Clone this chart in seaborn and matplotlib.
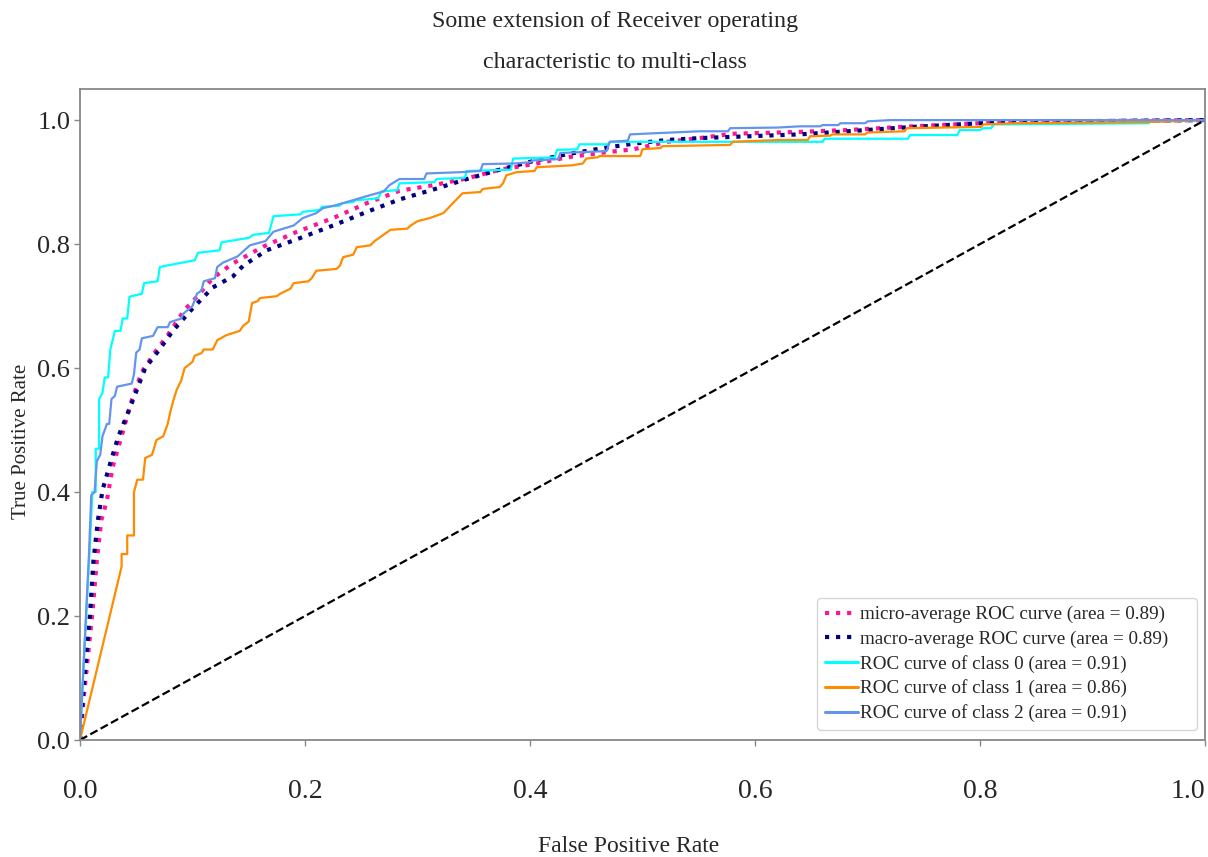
import numpy as np
import pandas as pd
import matplotlib
matplotlib.use("Agg")
import matplotlib.pyplot as plt
import seaborn as sns

# --- Curve data ---
fpr_micro = [0.0, 0.004, 0.011, 0.015, 0.019, 0.024, 0.029, 0.036, 0.041, 0.046, 0.055, 0.068,
             0.078, 0.093, 0.104, 0.118, 0.136, 0.163, 0.193, 0.225, 0.255, 0.284, 0.314, 0.344,
             0.373, 0.403, 0.433, 0.462, 0.492, 0.522, 0.551, 0.58, 0.64, 0.682, 0.74, 0.8, 0.86, 1.0]
tpr_micro = [0.0, 0.08, 0.205, 0.29, 0.355, 0.387, 0.44, 0.484, 0.516, 0.548, 0.594, 0.629,
             0.653, 0.694, 0.715, 0.745, 0.769, 0.796, 0.82, 0.842, 0.866, 0.886, 0.895, 0.906,
             0.92, 0.929, 0.94, 0.947, 0.953, 0.965, 0.971, 0.978, 0.981, 0.984, 0.99, 0.995, 0.998, 1.0]

fpr_macro = [0.0, 0.003, 0.009, 0.012, 0.016, 0.020, 0.027, 0.034, 0.040, 0.047, 0.058, 0.069,
             0.083, 0.1, 0.118, 0.136, 0.145, 0.166, 0.196, 0.225, 0.255, 0.284, 0.314, 0.344,
             0.373, 0.403, 0.433, 0.462, 0.492, 0.522, 0.551, 0.58, 0.64, 0.682, 0.74, 0.8, 0.86, 0.93, 1.0]
tpr_macro = [0.0, 0.08, 0.205, 0.29, 0.355, 0.403, 0.447, 0.489, 0.516, 0.548, 0.60, 0.626,
             0.661, 0.696, 0.73, 0.748, 0.765, 0.79, 0.81, 0.83, 0.852, 0.872, 0.888, 0.905,
             0.92, 0.934, 0.945, 0.954, 0.962, 0.968, 0.971, 0.973, 0.977, 0.982, 0.989, 0.995, 0.997, 0.999, 1.0]

fpr_0 = [0.0, 0.004, 0.009, 0.011, 0.014, 0.014, 0.017, 0.017, 0.020, 0.022, 0.025, 0.027, 0.031,
         0.036, 0.038, 0.042, 0.044, 0.055, 0.057, 0.069, 0.071, 0.076, 0.102, 0.105, 0.124, 0.126,
         0.150, 0.154, 0.168, 0.172, 0.196, 0.198, 0.213, 0.215, 0.231, 0.233, 0.243, 0.245, 0.255,
         0.265, 0.268, 0.282, 0.284, 0.315, 0.317, 0.342, 0.344, 0.383, 0.385, 0.422, 0.424, 0.442,
         0.444, 0.469, 0.471, 0.66, 0.662, 0.736, 0.738, 0.78, 0.782, 0.80, 0.803, 0.81, 0.812,
         0.95, 0.95, 1.0]
tpr_0 = [0.0, 0.15, 0.32, 0.40, 0.40, 0.47, 0.47, 0.55, 0.56, 0.585, 0.585, 0.63, 0.66,
         0.66, 0.68, 0.68, 0.715, 0.72, 0.737, 0.74, 0.763, 0.765, 0.774, 0.786, 0.79, 0.803,
         0.81, 0.815, 0.818, 0.845, 0.848, 0.852, 0.855, 0.86, 0.862, 0.866, 0.868, 0.871, 0.872,
         0.874, 0.885, 0.887, 0.898, 0.90, 0.905, 0.907, 0.918, 0.92, 0.938, 0.94, 0.952, 0.953,
         0.961, 0.961, 0.965, 0.965, 0.97, 0.97, 0.976, 0.976, 0.984, 0.984, 0.987, 0.987, 0.993,
         0.995, 0.998, 1.0]

fpr_1 = [0.0, 0.037, 0.037, 0.042, 0.042, 0.048, 0.048, 0.051, 0.056, 0.058, 0.064, 0.068, 0.074,
         0.078, 0.080, 0.083, 0.086, 0.090, 0.093, 0.1, 0.102, 0.108, 0.110, 0.118, 0.122, 0.130,
         0.142, 0.145, 0.150, 0.153, 0.158, 0.160, 0.175, 0.178, 0.187, 0.190, 0.203, 0.206, 0.21,
         0.228, 0.231, 0.234, 0.243, 0.246, 0.258, 0.262, 0.276, 0.291, 0.294, 0.300, 0.311, 0.323,
         0.34, 0.356, 0.358, 0.373, 0.376, 0.379, 0.388, 0.404, 0.406, 0.437, 0.447, 0.45, 0.46,
         0.462, 0.498, 0.5, 0.516, 0.518, 0.578, 0.58, 0.622, 0.647, 0.649, 0.667, 0.669, 0.698,
         0.7, 0.733, 0.735, 0.801, 0.803, 0.83, 0.95, 1.0]
tpr_1 = [0.0, 0.28, 0.30, 0.30, 0.33, 0.33, 0.40, 0.42, 0.42, 0.455, 0.46, 0.484, 0.49,
         0.51, 0.527, 0.548, 0.565, 0.58, 0.60, 0.61, 0.62, 0.624, 0.63, 0.63, 0.645, 0.653,
         0.66, 0.668, 0.675, 0.705, 0.708, 0.713, 0.716, 0.72, 0.728, 0.737, 0.74, 0.745, 0.757,
         0.76, 0.765, 0.779, 0.783, 0.795, 0.798, 0.805, 0.823, 0.825, 0.83, 0.837, 0.842, 0.85,
         0.882, 0.884, 0.889, 0.892, 0.898, 0.911, 0.916, 0.918, 0.924, 0.927, 0.93, 0.938, 0.94,
         0.942, 0.942, 0.953, 0.955, 0.958, 0.96, 0.965, 0.968, 0.968, 0.974, 0.975, 0.977, 0.977,
         0.98, 0.982, 0.987, 0.989, 0.993, 0.995, 0.997, 1.0]

fpr_2 = [0.0, 0.004, 0.008, 0.010, 0.013, 0.015, 0.018, 0.020, 0.024, 0.026, 0.028, 0.031, 0.033,
         0.046, 0.048, 0.050, 0.053, 0.055, 0.065, 0.069, 0.078, 0.080, 0.090, 0.092, 0.100, 0.104,
         0.108, 0.110, 0.120, 0.122, 0.127, 0.140, 0.151, 0.165, 0.172, 0.19, 0.198, 0.21, 0.216,
         0.228, 0.243, 0.258, 0.27, 0.275, 0.284, 0.306, 0.308, 0.338, 0.356, 0.358, 0.385, 0.40,
         0.403, 0.425, 0.427, 0.468, 0.471, 0.487, 0.489, 0.513, 0.551, 0.576, 0.578, 0.62, 0.64,
         0.658, 0.66, 0.674, 0.676, 0.698, 0.70, 0.72, 1.0]
tpr_2 = [0.0, 0.15, 0.30, 0.395, 0.40, 0.45, 0.46, 0.49, 0.51, 0.51, 0.55, 0.555, 0.57,
         0.575, 0.59, 0.625, 0.63, 0.648, 0.652, 0.666, 0.666, 0.674, 0.68, 0.688, 0.70, 0.72,
         0.725, 0.74, 0.745, 0.763, 0.77, 0.78, 0.798, 0.805, 0.82, 0.83, 0.842, 0.85, 0.858,
         0.863, 0.871, 0.879, 0.885, 0.895, 0.905, 0.905, 0.914, 0.916, 0.918, 0.929, 0.93, 0.932,
         0.935, 0.937, 0.947, 0.95, 0.965, 0.967, 0.977, 0.979, 0.982, 0.982, 0.987, 0.988, 0.99,
         0.99, 0.992, 0.992, 0.995, 0.995, 0.998, 1.0, 1.0]

curves = [
    ("micro-average ROC curve (area = 0.89)", fpr_micro, tpr_micro, "deeppink", ":", 3.0),
    ("macro-average ROC curve (area = 0.89)", fpr_macro, tpr_macro, "navy", ":", 3.0),
    ("ROC curve of class 0 (area = 0.91)", fpr_0, tpr_0, "aqua", "-", 1.6),
    ("ROC curve of class 1 (area = 0.86)", fpr_1, tpr_1, "darkorange", "-", 1.6),
    ("ROC curve of class 2 (area = 0.91)", fpr_2, tpr_2, "cornflowerblue", "-", 1.6),
]

# --- Style ---
sns.set_theme(style="white")
plt.rcParams['font.family'] = ['Liberation Serif', 'DejaVu Serif']

fig = plt.figure(figsize=(12.08, 8.57), dpi=100)
ax = fig.add_axes([0.0662, 0.1365, 0.9313, 0.7595])

for label, fpr, tpr, color, ls, lw in curves:
    sns.lineplot(x=fpr, y=tpr, ax=ax, sort=False, estimator=None, color=color,
                 linestyle=ls, linewidth=lw, label=label)

sns.lineplot(x=[0, 1], y=[0, 1], ax=ax, sort=False, estimator=None, color="black",
             linestyle="--", linewidth=1.6)

ax.set_xlim(0.0, 1.0)
ax.set_ylim(0.0, 1.05)
ax.set_xticks([0.0, 0.2, 0.4, 0.6, 0.8, 1.0])
ax.set_yticks([0.0, 0.2, 0.4, 0.6, 0.8, 1.0])

for s in ax.spines.values():
    s.set_color("#888888")
    s.set_linewidth(1.3)
ax.tick_params(axis="both", which="major", bottom=True, left=True, length=4,
               width=1, color="#888888")
ax.tick_params(axis="x", pad=24, labelsize=20)
ax.tick_params(axis="y", pad=3, labelsize=19)
# keep the last x label inside the figure
xlabels = ax.get_xticklabels()
xlabels[-1].set_horizontalalignment("right")

ax.set_xlabel("")
ax.set_ylabel("")
fig.text(0.52, 1 - 846 / 857, "False Positive Rate", ha="center", va="center", fontsize=17)
fig.text(22 / 1208, 1 - 441 / 857, "True Positive Rate", ha="center", va="center",
         rotation=90, fontsize=15)

fig.text(0.509, 1 - 22 / 857, "Some extension of Receiver operating", ha="center",
         va="center", fontsize=17.3)
fig.text(0.509, 1 - 62 / 857, "characteristic to multi-class", ha="center", va="center",
         fontsize=17.3)

leg = ax.legend(loc="lower left", bbox_to_anchor=(0.655, 0.0154, 0.338, 0.0), mode="expand",
                borderaxespad=0, fontsize=13.8, handlelength=1.75, handletextpad=0.1,
                labelspacing=0.36, frameon=True, fancybox=True)
leg.get_frame().set_edgecolor("#cccccc")
for h in leg.get_lines()[2:]:
    h.set_linewidth(2.2)

fig.savefig("out.png", dpi=100)
